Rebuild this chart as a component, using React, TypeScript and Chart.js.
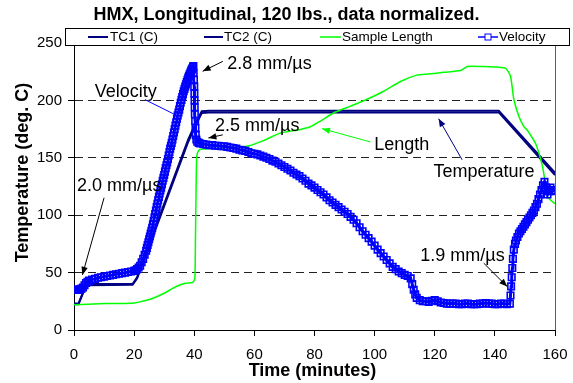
import React, { useEffect, useRef } from 'react';
import { Chart, registerables } from 'chart.js';

Chart.register(...registerables);

const FONT = '"Liberation Sans", Arial, Helvetica, sans-serif';

const titleText = 'HMX, Longitudinal, 120 lbs., data normalized.';
const xAxisTitle = 'Time (minutes)';
const yAxisTitle = 'Temperature (deg. C)';
const seriesNames = ['TC1 (C)', 'TC2 (C)', 'Sample Length', 'Velocity'];

// Velocity series (minutes, normalized value)
const velTime = [
  0, 0.5, 1, 1.5, 2, 2.5, 3, 3.5, 4, 4.5, 5, 6, 7, 8, 9, 10, 11, 12, 13, 14, 15, 16, 17, 18, 19, 20, 20.5, 21, 21.5, 22,
  22.5, 23, 23.5, 24, 24.25, 24.5, 24.75, 25, 25.25, 25.5, 25.75, 26, 26.25, 26.5, 26.75, 27, 27.25, 27.5, 27.75, 28,
  28.25, 28.5, 28.75, 29, 29.25, 29.5, 29.75, 30, 30.25, 30.5, 30.75, 31, 31.25, 31.5, 31.75, 32, 32.25, 32.5, 32.75,
  33, 33.25, 33.5, 33.75, 34, 34.25, 34.5, 34.75, 35, 35.25, 35.5, 35.75, 36, 36.25, 36.5, 36.75, 37, 37.25, 37.5,
  37.75, 38, 38.25, 38.5, 38.75, 39, 39.2, 39.4, 39.6, 39.7, 39.8, 39.9, 40.0, 40.05, 40.1, 40.15, 40.2, 40.3, 40.4,
  40.5, 40.7, 41, 41.5, 42, 43, 44, 45, 46, 47, 48, 49, 50, 51, 52, 53, 54, 55, 56, 57, 58, 59, 60, 61, 62, 63, 64, 65,
  66, 67, 68, 69, 70, 71, 72, 73, 74, 75, 76, 77, 78, 79, 80, 81, 82, 83, 84, 85, 86, 87, 88, 89, 90, 91, 92, 93, 94,
  95, 96, 97, 98, 99, 100, 101, 102, 103, 104, 105, 106, 107, 108, 109, 110, 111, 112, 112.5, 113, 113.5, 114, 115,
  116, 117, 118, 119, 120, 121, 122, 123, 124, 125, 126, 127, 128, 129, 130, 131, 132, 133, 134, 135, 136, 137, 138,
  139, 140, 141, 142, 143, 144, 145, 145.2, 145.4, 145.6, 145.8, 146, 146.3, 146.7, 147, 147.5, 148, 148.5, 149,
  149.5, 150, 150.5, 151, 151.5, 152, 152.5, 153, 153.5, 154, 154.5, 155, 155.5, 156, 156.5, 157, 157.5, 158, 158.5,
  159, 159.5, 160,
];
const velValue = [
  35, 35, 35, 35, 35.5, 36, 37, 39, 41, 42, 43, 44, 44.5, 45.5, 46, 46.5, 47, 47.5, 48, 48.5, 49, 49.5, 50, 50.5, 51,
  51.5, 52, 53, 54.5, 56, 59, 62, 65.5, 69, 71.5, 74, 76.5, 79, 81.5, 84, 86.5, 89, 92, 95, 98, 101, 104, 107, 110, 113,
  116, 119, 121.5, 124, 127, 130, 132.5, 135, 138, 141, 143.5, 146, 149, 152, 155, 158, 160.5, 163, 166, 169, 172, 175,
  178, 181, 184, 187, 189.5, 192, 195, 198, 200.5, 203, 205.5, 208, 210, 212, 214, 216, 218, 220, 221.5, 223, 224.5,
  226, 227, 228, 229, 230, 224, 218, 212, 206, 200, 194, 188, 182, 176, 170, 166, 164, 163, 162.5, 162, 161.5, 161,
  161, 160.5, 160.5, 160, 160, 159.5, 159, 158.5, 158, 157, 156.5, 156, 155, 154, 153.5, 153, 152, 151, 150, 149,
  147.5, 146.5, 145, 143.5, 142, 140.5, 139, 137, 135.5, 134, 132, 130, 127.5, 126, 124, 122, 120, 118, 115.5, 113,
  111, 109, 107, 105, 103, 101, 98.5, 96, 93, 89.5, 86, 83, 80, 77, 73.5, 70, 67, 64, 61, 58, 55, 53, 51, 49.5, 48, 47,
  45, 40, 35, 31, 28, 26, 25, 25, 24.5, 25.5, 26, 25, 24, 23.5, 23, 23, 23, 23, 22.5, 22.5, 23, 23, 22.5, 22.5, 22.5,
  23, 23, 23.5, 23, 23, 22.5, 22.5, 23, 23, 22.5, 23, 30, 38, 46, 54, 62, 70, 75, 78, 81, 84, 86, 88, 90, 92, 94, 96,
  98, 100, 102, 104, 107, 110, 114, 118, 122, 126, 129, 124, 118, 121, 124, 122, 121.5, 121,
];

// Thermocouple series
const tcTime = [0, 1.5, 4, 5, 19.5, 21, 28.6, 38, 40.8, 42.5, 45, 141.3, 160];
const tc1Value = [23, 23, 39.5, 40, 40, 46, 100, 166, 182, 190.5, 191, 191, 137];
const tc2Value = [22.5, 22.5, 38.5, 39, 39.5, 45, 98, 164, 180, 189, 189.5, 189.5, 135];

// Sample length series
const lenTime = [
  0, 5, 10, 15, 20, 22, 25, 27.5, 30, 33, 35, 37, 39.5, 40.2, 40.4, 40.6, 40.8, 41.2, 42, 45, 50, 57.5, 63, 68.6, 75,
  78.6, 82, 86.3, 92, 97.5, 103, 108.6, 114, 118, 123, 128.6, 130.8, 136, 140.8, 143.6, 145.2, 146.3, 148, 149.7, 150.8,
  153.6, 155.8, 156.9, 157.5, 158.6, 160,
];
const lenValue = [
  22, 22.5, 23, 23, 23.5, 24.5, 26.5, 29, 32, 36.5, 39, 40.8, 41.5, 45, 80, 120, 150, 155, 157.5, 158, 158.5, 160, 165,
  171.5, 174.5, 177, 182, 189, 195, 201, 208, 216.5, 222, 223, 224.5, 226, 229.5, 229.5, 229, 228, 221, 201, 186, 177,
  174, 162, 143, 126, 116, 113, 110,
];

// Annotations (data coordinates)
const noteText = ['2.8 mm/µs', '2.5 mm/µs', 'Velocity', '2.0 mm/µs', 'Length', 'Temperature', '1.9 mm/µs'];
const noteX = [51, 46.9, 6.9, 1, 99.9, 119.6, 115.2];
const noteY = [232, 178, 207, 125, 160.8, 137.9, 64];
const arrowFromX = [49.5, 49.5, 23.6, 10, 98.6, 129.1, 136.3];
const arrowFromY = [234, 170, 200.7, 115.2, 163.8, 148.3, 58.2];
const arrowToX = [42.8, 44.7, 33.6, 2.8, 82.5, 121.3, 144.1];
const arrowToY = [225.4, 167.3, 187.6, 48, 175.4, 184, 37.8];
const arrowColor = ['#000000', '#000000', '#0000FF', '#000000', '#00FF00', '#000080', '#000000'];
const arrowHasHead = [true, true, false, true, true, true, true];

const toPoints = (xs: number[], ys: number[]) => xs.map((x, i) => ({ x, y: ys[i] }));

function drawArrow(ctx: CanvasRenderingContext2D, x1: number, y1: number, x2: number, y2: number, color: string, head: boolean) {
  ctx.save();
  ctx.strokeStyle = color;
  ctx.fillStyle = color;
  ctx.lineWidth = 1;
  ctx.beginPath();
  ctx.moveTo(x1, y1);
  ctx.lineTo(x2, y2);
  ctx.stroke();
  if (head) {
    const a = Math.atan2(y2 - y1, x2 - x1);
    const len = 8;
    const w = 3.2;
    const bx = x2 - len * Math.cos(a);
    const by = y2 - len * Math.sin(a);
    ctx.beginPath();
    ctx.moveTo(x2, y2);
    ctx.lineTo(bx + w * Math.sin(a), by - w * Math.cos(a));
    ctx.lineTo(bx - w * Math.sin(a), by + w * Math.cos(a));
    ctx.closePath();
    ctx.fill();
  }
  ctx.restore();
}

const decorPlugin = {
  id: 'decor',
  beforeDatasetsDraw(chart: any) {
    const { ctx, chartArea } = chart;
    ctx.save();
    ctx.strokeStyle = '#606060';
    ctx.lineWidth = 1;
    ctx.beginPath();
    ctx.moveTo(Math.round(chartArea.right) + 0.5, chartArea.top);
    ctx.lineTo(Math.round(chartArea.right) + 0.5, chartArea.bottom);
    ctx.stroke();
    ctx.restore();
  },
  afterDatasetsDraw(chart: any) {
    const { ctx, scales } = chart;
    const xs = scales.x;
    const ys = scales.y;
    for (let i = 0; i < noteText.length; i++) {
      drawArrow(
        ctx,
        xs.getPixelForValue(arrowFromX[i]),
        ys.getPixelForValue(arrowFromY[i]),
        xs.getPixelForValue(arrowToX[i]),
        ys.getPixelForValue(arrowToY[i]),
        arrowColor[i],
        arrowHasHead[i]
      );
    }
    ctx.save();
    ctx.fillStyle = '#000';
    ctx.font = `18px ${FONT}`;
    ctx.textAlign = 'left';
    ctx.textBaseline = 'middle';
    for (let i = 0; i < noteText.length; i++) {
      ctx.fillText(noteText[i], xs.getPixelForValue(noteX[i]), ys.getPixelForValue(noteY[i]));
    }
    ctx.restore();
  },
  afterDraw(chart: any) {
    const { ctx, chartArea } = chart;
    ctx.save();
    // Title
    ctx.fillStyle = '#000';
    ctx.font = `bold 18px ${FONT}`;
    ctx.textAlign = 'center';
    ctx.textBaseline = 'middle';
    ctx.fillText(titleText, 286.5, 15);
    // X axis title
    ctx.fillText(xAxisTitle, (chartArea.left + chartArea.right) / 2 - 2, 371);
    // Y axis title
    ctx.save();
    ctx.translate(23, (chartArea.top + chartArea.bottom) / 2 - 14);
    ctx.rotate(-Math.PI / 2);
    ctx.fillText(yAxisTitle, 0, 0);
    ctx.restore();

    // Legend box
    const bx = 65.5, by = 28.5, bw = 504, bh = 17;
    ctx.fillStyle = '#fff';
    ctx.fillRect(bx, by, bw, bh);
    ctx.strokeStyle = '#000';
    ctx.lineWidth = 1;
    ctx.strokeRect(bx, by, bw, bh);
    const cy = by + bh / 2;
    const items = [
      { x1: 88, x2: 108, tx: 110, color: '#000080', marker: false },
      { x1: 204, x2: 223, tx: 224, color: '#000080', marker: false },
      { x1: 320, x2: 341, tx: 342, color: '#00FF00', marker: false },
      { x1: 478, x2: 498, tx: 499, color: '#0000FF', marker: true },
    ];
    ctx.font = `13.5px ${FONT}`;
    ctx.textAlign = 'left';
    ctx.textBaseline = 'middle';
    items.forEach((it, i) => {
      ctx.strokeStyle = it.color;
      ctx.lineWidth = i < 2 ? 2 : 1.5;
      ctx.beginPath();
      ctx.moveTo(it.x1, Math.round(cy));
      ctx.lineTo(it.x2, Math.round(cy));
      ctx.stroke();
      if (it.marker) {
        ctx.lineWidth = 1;
        const mx = (it.x1 + it.x2) / 2;
        ctx.fillStyle = '#fff';
        ctx.fillRect(mx - 3, Math.round(cy) - 3, 6, 6);
        ctx.strokeRect(mx - 3, Math.round(cy) - 3, 6, 6);
      }
      ctx.fillStyle = '#000';
      ctx.fillText(seriesNames[i], it.tx, cy + 0.5);
    });
    ctx.restore();
  },
};

export default function App() {
  const canvasRef = useRef<HTMLCanvasElement | null>(null);

  useEffect(() => {
    if (!canvasRef.current) return;
    const chart = new Chart(canvasRef.current, {
      type: 'scatter',
      data: {
        datasets: [
          {
            label: seriesNames[3],
            data: toPoints(velTime, velValue),
            showLine: true,
            borderColor: '#0000FF',
            borderWidth: 3,
            pointStyle: 'rect',
            pointRadius: 4.6,
            pointBorderColor: '#0000FF',
            pointBackgroundColor: 'rgba(0,0,0,0)',
            pointBorderWidth: 1.6,
            order: 0,
          },
          {
            label: seriesNames[2],
            data: toPoints(lenTime, lenValue),
            showLine: true,
            borderColor: '#00FF00',
            borderWidth: 1.5,
            pointRadius: 0,
            tension: 0.2,
            order: 1,
          },
          {
            label: seriesNames[1],
            data: toPoints(tcTime, tc2Value),
            showLine: true,
            borderColor: '#000080',
            borderWidth: 2,
            pointRadius: 0,
            order: 2,
          },
          {
            label: seriesNames[0],
            data: toPoints(tcTime, tc1Value),
            showLine: true,
            borderColor: '#000080',
            borderWidth: 2,
            pointRadius: 0,
            order: 3,
          },
        ],
      },
      options: {
        animation: false,
        responsive: false,
        devicePixelRatio: 1,
        layout: { padding: { top: 43, right: 18, left: 0, bottom: 0 } },
        plugins: {
          legend: { display: false },
          title: { display: false },
          tooltip: { enabled: false },
        },
        scales: {
          x: {
            type: 'linear',
            min: 0,
            max: 160,
            ticks: {
              stepSize: 20,
              color: '#000',
              font: { family: FONT, size: 15 },
              padding: 10,
              maxRotation: 0,
              autoSkip: false,
            },
            grid: {
              drawOnChartArea: false,
              drawTicks: true,
              tickLength: 6,
              tickColor: '#000',
              tickWidth: 1,
            },
            border: { display: true, color: '#000', width: 1 },
            afterFit: (s: any) => {
              s.height = 53;
              s.paddingLeft = 0;
              s.paddingRight = 0;
            },
          },
          y: {
            min: 0,
            max: 250,
            ticks: {
              stepSize: 50,
              color: '#000',
              font: { family: FONT, size: 15 },
              padding: 6,
            },
            grid: {
              color: (c: any) =>
                c.tick && (c.tick.value === 0 || c.tick.value === 250) ? 'rgba(0,0,0,0)' : '#222',
              lineWidth: 1,
              drawTicks: true,
              tickLength: 6,
              tickColor: '#000',
              tickWidth: 1,
              tickBorderDash: [],
            },
            border: { display: true, color: '#000', width: 1, dash: [8, 5] },
            afterFit: (s: any) => {
              s.width = 74;
              s.paddingTop = 0;
              s.paddingBottom = 0;
            },
          },
        },
      } as any,
      plugins: [decorPlugin],
    });
    return () => chart.destroy();
  }, []);

  return (
    <div style={{ position: 'absolute', left: 0, top: 0, width: 573, height: 383, background: '#fff' }}>
      <canvas ref={canvasRef} width={573} height={383} style={{ width: 573, height: 383, display: 'block' }} />
    </div>
  );
}
